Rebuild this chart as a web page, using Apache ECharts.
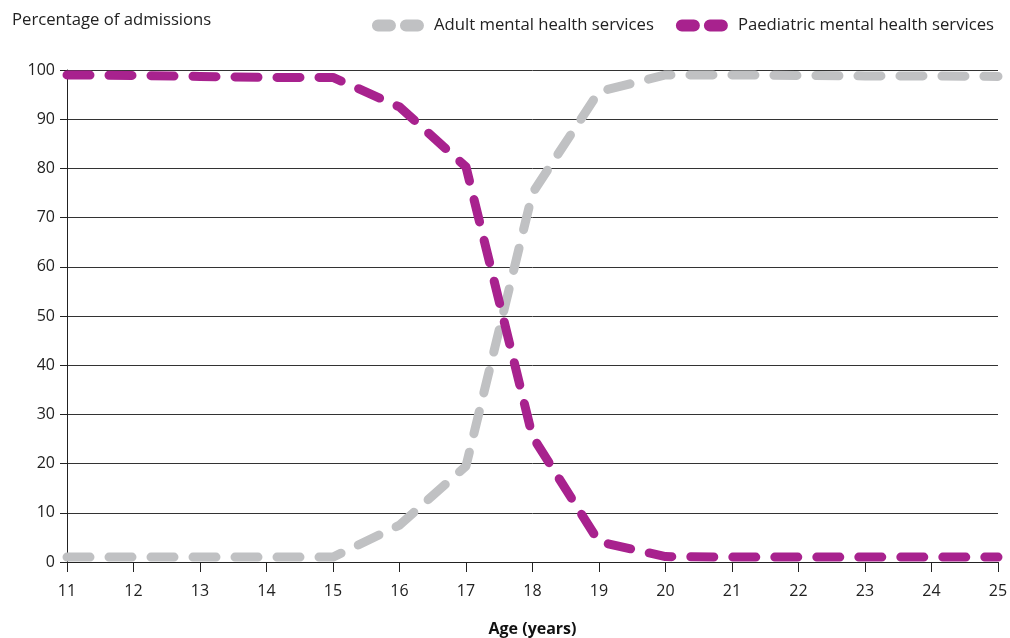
<!DOCTYPE html>
<html><head><meta charset="utf-8">
<script src="https://cdn.jsdelivr.net/npm/echarts@6/dist/echarts.min.js"></script>
<style>html,body{margin:0;padding:0;background:#fff}#c{width:1010px;height:638px}</style>
</head><body><div id="c"></div>
<script>
const ages = [11,12,13,14,15,16,17,18,19,20,21,22,23,24,25];
const adult = [1,1,1,1,1,7.5,19.5,75,95.6,99,99,98.9,98.8,98.8,98.7];
const paediatric = [99,98.9,98.7,98.5,98.5,92.5,80.3,25.5,4.1,1.1,1,1,1,1,1];
const seriesNames = ['Adult mental health services','Paediatric mental health services'];
const colors = ['#c0c1c3','#a8228e'];
const yTitle = 'Percentage of admissions';
const xTitle = 'Age (years)';

const chart = echarts.init(document.getElementById('c'));
const font = 'Open Sans';
const pill = 'path://M6,0 H18 A6,6 0 0 1 18,12 H6 A6,6 0 0 1 6,0 Z M34,0 H46 A6,6 0 0 1 46,12 H34 A6,6 0 0 1 34,0 Z';
function mk(name, vals, color){
  return {
    name, type:'line', data: ages.map((a,i)=>[a, vals[i]]),
    symbol:'none', smooth:false,
    lineStyle:{color, width:9, type:[23,19], cap:'round', join:'round'},
    itemStyle:{color}
  };
}
chart.setOption({
  animation:false,
  textStyle:{fontFamily:font},
  grid:{left:67,right:12,top:70,bottom:76,containLabel:false,outerBoundsMode:'none'},
  legend:{
    right:11, top:12, itemGap:22, itemWidth:54, itemHeight:12,
    textStyle:{fontSize:16.7, color:'#222', fontFamily:font, padding:[0,0,0,4]},
    data:seriesNames.map((n,i)=>({name:n, icon:pill, itemStyle:{color:colors[i]}}))
  },
  graphic:[{type:'text', left:12, top:12, style:{text:yTitle, fontSize:16.7, fill:'#222', fontFamily:font}}],
  xAxis:{
    type:'value', min:11, max:25, interval:1,
    name:xTitle, nameLocation:'middle', nameGap:59,
    nameTextStyle:{fontSize:16, fontWeight:'bold', color:'#111', fontFamily:font},
    axisLine:{show:true, lineStyle:{color:'#222', width:1}},
    axisTick:{show:true, length:10, lineStyle:{color:'#222'}},
    axisLabel:{fontSize:16, color:'#222', margin:21, fontFamily:font},
    splitLine:{show:false}
  },
  yAxis:{
    type:'value', min:0, max:100, interval:10,
    axisLine:{show:true, lineStyle:{color:'#222', width:1}},
    axisTick:{show:true, length:7, lineStyle:{color:'#222'}},
    axisLabel:{fontSize:16, color:'#222', margin:12, fontFamily:font},
    splitLine:{show:true, lineStyle:{color:'#333', width:1}}
  },
  series:[mk(seriesNames[0], adult, colors[0]), mk(seriesNames[1], paediatric, colors[1])]
});
</script></body></html>
